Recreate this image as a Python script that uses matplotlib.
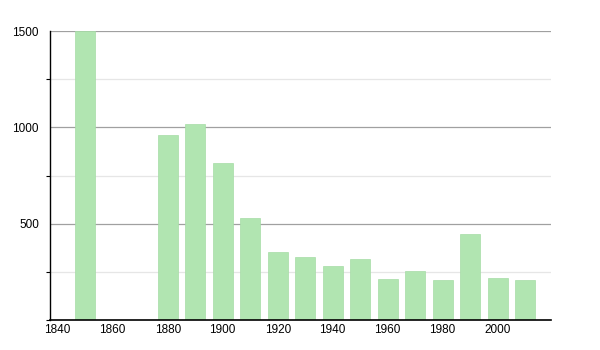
import matplotlib.pyplot as plt
from matplotlib.ticker import MultipleLocator

years = [1850, 1880, 1890, 1900, 1910, 1920, 1930, 1940, 1950, 1960, 1970, 1980, 1990, 2000, 2010]
population = [1500, 961, 1017, 815, 530, 353, 327, 282, 317, 213, 256, 210, 447, 220, 210]

plt.rcParams['font.family'] = ['Liberation Sans', 'DejaVu Sans']

fig = plt.figure(figsize=(6, 3.5), dpi=100)
ax = fig.add_axes([50 / 600, 30 / 350, 501 / 600, 289 / 350])

ax.bar(years, population, width=7.3, color='#b1e5b1', edgecolor='#a6dca6', linewidth=0.5, zorder=2)

ax.set_xlim(1837.2, 2019.4)
ax.set_ylim(0, 1500)
ax.set_xticks(range(1840, 2001, 20))
ax.yaxis.set_major_locator(MultipleLocator(500))
ax.yaxis.set_minor_locator(MultipleLocator(250))
ax.set_yticks([500, 1000, 1500])

ax.grid(axis='y', which='major', color='#a0a0a0', linewidth=0.9, zorder=0)
ax.grid(axis='y', which='minor', color='#e6e6e6', linewidth=0.9, zorder=0)

ax.spines['top'].set_visible(False)
ax.spines['right'].set_visible(False)
ax.spines['left'].set_linewidth(1)
ax.spines['bottom'].set_linewidth(1.2)

ax.tick_params(axis='x', length=0, labelsize=8.5, pad=3)
ax.tick_params(axis='y', which='major', length=0, labelsize=8.5, pad=8)
ax.tick_params(axis='y', which='minor', length=3, width=0.8)

plt.savefig('out.png')
